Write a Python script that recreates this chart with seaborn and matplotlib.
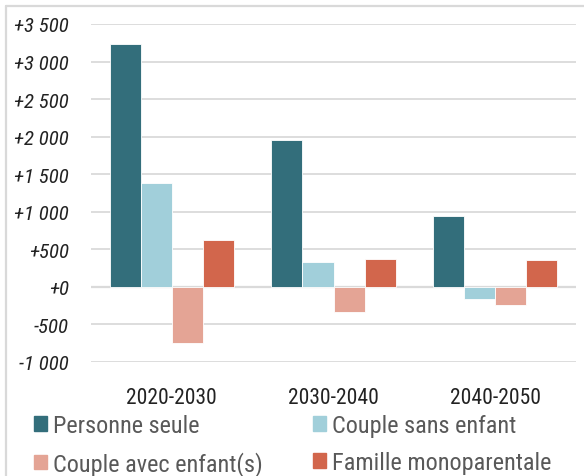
import pandas as pd
import numpy as np
import seaborn as sns
import matplotlib.pyplot as plt
from matplotlib.lines import Line2D

periods = ["2020-2030", "2030-2040", "2040-2050"]
series = ["Personne seule", "Couple sans enfant",
          "Couple avec enfant(s)", "Famille monoparentale"]
personne_seule = [3230, 1960, 940]
couple_sans = [1380, 330, -160]
couple_avec = [-750, -330, -245]
famille_mono = [620, 375, 360]
colors = ["#336e7b", "#a1cfda", "#e4a495", "#d2664c"]
yticks = [-1000, -500, 0, 500, 1000, 1500, 2000, 2500, 3000, 3500]

rows = []
for name, vals in zip(series, [personne_seule, couple_sans, couple_avec, famille_mono]):
    for p, v in zip(periods, vals):
        rows.append({"periode": p, "type": name, "valeur": v})
data = pd.DataFrame(rows)

sns.set_theme(style="white")
plt.rcParams["font.family"] = ["Roboto Condensed", "Roboto", "DejaVu Sans"]

fig = plt.figure(figsize=(5.84, 4.77), dpi=100)
ax = fig.add_axes([91/584, 1-363/477, 485/584, 338/477])

sns.barplot(data=data, x="periode", y="valeur", hue="type", palette=colors,
            saturation=1, width=0.77, edgecolor="white", linewidth=0.6,
            ax=ax, legend=False)

ax.set_ylim(-1000, 3500)
ax.set_xlim(-0.5, 2.5)
ax.set_yticks(yticks)
ax.set_yticklabels([f"{v:+,.0f}".replace(",", " ") for v in yticks],
                   fontsize=15, style="italic", color="#222222")
ax.tick_params(axis="y", length=0, pad=16)
ax.tick_params(axis="x", length=0, pad=18, labelsize=15.5, labelcolor="#222222")
ax.set_xlabel("")
ax.set_ylabel("")
for v in yticks:
    ax.axhline(v, color="#dadada", lw=1.6 if v == 0 else 1.3, zorder=0)
for s in ax.spines.values():
    s.set_visible(False)

# legend filled row by row, like the original
order = [0, 2, 1, 3]
handles = [plt.Rectangle((0, 0), 1, 1, color=colors[i]) for i in order]
fig.legend(handles, [series[i] for i in order], loc="lower left",
           bbox_to_anchor=(0.0574, 0.0), ncol=2, frameon=False, fontsize=17.5,
           labelcolor="#595959", handlelength=0.55, handleheight=0.55,
           handletextpad=0.25, columnspacing=2.05, borderaxespad=0.0,
           borderpad=0.0, labelspacing=0.58)

# frame of the original panel
fig.add_artist(Line2D([6/584, 6/584], [0, 1-7/477], color="#d9d9d9", lw=1.6))
fig.add_artist(Line2D([6/584, 1], [1-7/477, 1-7/477], color="#d9d9d9", lw=1.6))

fig.savefig("out.png", dpi=100)
